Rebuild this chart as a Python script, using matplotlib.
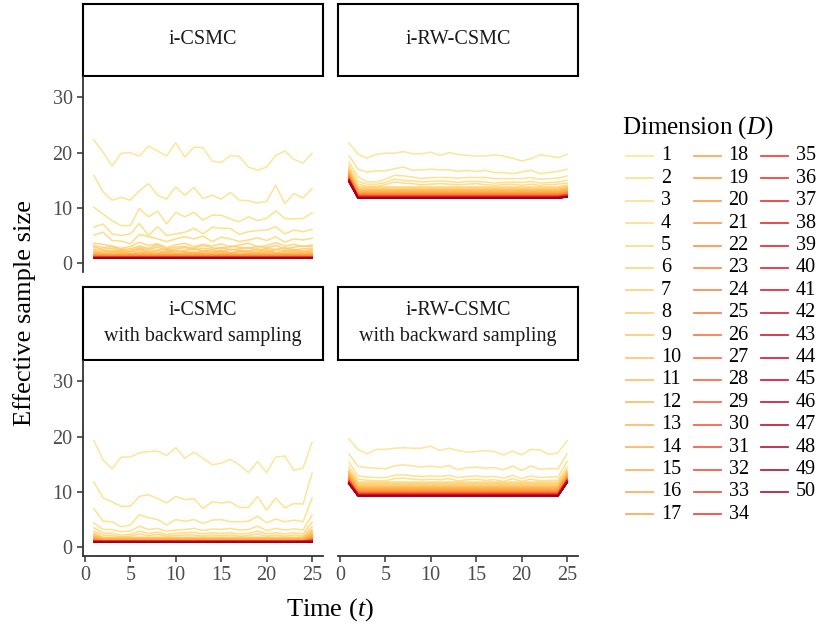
import matplotlib
matplotlib.use("Agg")
import matplotlib.pyplot as plt
from matplotlib.lines import Line2D
import numpy as np

plt.rcParams['font.family'] = ['Liberation Serif', 'DejaVu Serif']
plt.rcParams['mathtext.fontset'] = 'custom'
plt.rcParams['mathtext.rm'] = 'Liberation Serif'
plt.rcParams['mathtext.it'] = 'Liberation Serif:italic'

# ---- data ----
time = list(range(1, 26))
dims = list(range(1, 51))
panel_titles = ["i-CSMC", "i-RW-CSMC",
                "i-CSMC\nwith backward sampling", "i-RW-CSMC\nwith backward sampling"]
x_ticks = [0, 5, 10, 15, 20, 25]
y_ticks = [0, 10, 20, 30]

# i-CSMC, dimensions 1..12 read point by point
csmc_rows = [
    [22.3, 20.1, 17.6, 19.9, 20.0, 19.4, 21.2, 20.3, 19.4, 21.8, 19.2, 21.0, 20.9, 18.5, 18.2, 19.5, 19.3, 17.4, 16.8, 17.4, 19.5, 20.3, 18.8, 18.1, 19.9],
    [15.9, 12.9, 11.4, 11.9, 11.4, 13.1, 14.4, 12.3, 11.6, 13.8, 12.3, 13.7, 11.7, 12.3, 11.6, 12.8, 11.4, 11.3, 10.9, 11.2, 14.1, 10.8, 12.6, 11.8, 13.5],
    [10.1, 8.9, 7.7, 6.8, 6.8, 9.9, 8.4, 9.4, 7.1, 9.2, 8.4, 9.2, 7.8, 8.7, 8.7, 8.0, 7.5, 8.4, 7.7, 8.1, 9.5, 8.1, 8.0, 8.1, 9.1],
    [6.5, 7.1, 5.3, 5.0, 5.3, 7.2, 5.0, 6.6, 5.0, 5.3, 5.6, 6.3, 5.3, 6.5, 6.3, 6.3, 5.2, 5.7, 5.9, 6.0, 6.6, 5.3, 6.0, 5.7, 6.1],
    [5.1, 5.6, 4.1, 4.0, 3.5, 5.2, 4.8, 4.4, 3.9, 4.4, 4.8, 4.4, 4.9, 3.9, 4.7, 4.4, 3.9, 4.2, 4.6, 4.1, 4.8, 3.8, 4.4, 4.2, 4.5],
    [3.6, 3.4, 3.1, 2.7, 3.0, 3.8, 3.2, 3.5, 2.8, 3.3, 3.6, 3.0, 3.4, 3.1, 3.5, 2.9, 3.3, 3.6, 3.0, 3.2, 3.7, 3.1, 3.4, 3.0, 3.3],
    [3.2, 2.8, 3.0, 2.5, 2.6, 3.1, 2.7, 3.3, 2.6, 2.9, 3.0, 2.7, 3.2, 2.8, 2.6, 3.1, 2.9, 2.7, 3.0, 2.8, 3.2, 2.6, 2.9, 3.1, 3.0],
    [2.9, 2.5, 2.7, 2.3, 2.4, 2.8, 2.5, 2.9, 2.3, 2.6, 2.8, 2.4, 2.7, 2.5, 2.9, 2.4, 2.6, 2.8, 2.3, 2.7, 2.5, 2.8, 2.4, 2.6, 2.7],
    [2.5, 2.3, 2.1, 2.4, 2.0, 2.6, 2.2, 2.4, 2.5, 2.1, 2.3, 2.6, 2.2, 2.4, 2.1, 2.5, 2.3, 2.2, 2.6, 2.1, 2.4, 2.3, 2.5, 2.2, 2.4],
    [2.2, 2.0, 2.3, 1.9, 2.1, 2.4, 1.9, 2.2, 2.0, 2.3, 2.1, 1.9, 2.2, 2.0, 2.3, 1.9, 2.1, 2.2, 2.0, 2.4, 1.9, 2.1, 2.2, 2.0, 2.2],
    [2.0, 1.8, 1.9, 2.1, 1.7, 2.0, 1.9, 1.8, 2.1, 1.8, 1.9, 2.0, 1.7, 1.9, 2.0, 1.8, 2.1, 1.9, 1.8, 2.0, 1.9, 1.7, 2.0, 1.9, 1.9],
    [1.8, 1.7, 1.6, 1.8, 1.7, 1.9, 1.6, 1.8, 1.7, 1.6, 1.8, 1.7, 1.9, 1.6, 1.7, 1.8, 1.6, 1.7, 1.8, 1.7, 1.6, 1.8, 1.7, 1.7, 1.8],
]
# i-CSMC, dimensions 13..50 sit flat near ESS = 1
csmc_flat = [1.6, 1.55, 1.5, 1.45, 1.4, 1.35, 1.3, 1.3, 1.25, 1.25, 1.2, 1.2, 1.15, 1.15, 1.1, 1.1,
             1.1, 1.05, 1.05, 1.05, 1.05, 1.0, 1.0, 1.0, 1.0, 1.0, 1.0, 1.0, 1.0, 1.0, 1.0, 1.0,
             1.0, 1.0, 1.0, 1.0, 1.0, 1.0]

# i-RW-CSMC, dimensions 1..5
rw_rows = [
    [21.8, 19.7, 19.0, 19.7, 19.9, 19.9, 20.2, 19.8, 19.8, 20.1, 19.5, 20.0, 19.7, 19.5, 19.4, 19.4, 19.6, 19.4, 19.0, 18.5, 18.9, 19.6, 19.4, 19.1, 19.7],
    [19.5, 17.0, 16.5, 16.7, 16.7, 17.1, 17.4, 16.8, 16.9, 17.0, 16.9, 16.9, 16.6, 16.8, 16.6, 16.8, 16.4, 16.4, 16.2, 16.5, 16.8, 16.2, 16.4, 16.6, 17.0],
    [18.3, 15.6, 14.7, 14.7, 15.2, 15.9, 15.8, 15.6, 15.3, 15.5, 15.5, 15.5, 15.4, 15.5, 15.5, 15.5, 15.3, 15.3, 15.3, 15.3, 15.5, 15.2, 15.3, 15.4, 15.8],
    [17.7, 14.8, 14.3, 14.3, 14.6, 15.2, 15.0, 14.9, 14.7, 14.8, 14.9, 14.8, 14.6, 14.8, 14.8, 14.7, 14.5, 14.6, 14.7, 14.6, 14.8, 14.5, 14.6, 14.7, 15.0],
    [17.3, 14.3, 13.9, 13.9, 14.2, 14.7, 14.5, 14.4, 14.2, 14.3, 14.4, 14.3, 14.2, 14.3, 14.4, 14.2, 14.1, 14.2, 14.3, 14.1, 14.3, 14.1, 14.2, 14.3, 14.5],
]
# i-RW-CSMC, dimensions 6..50: value at t=1, level for t=2..24, value at t=25
rw_start = [17.0, 16.9, 16.8, 16.7, 16.6, 16.5, 16.4, 16.3, 16.2, 16.1, 16.0, 15.9, 15.8, 15.8, 15.7,
            15.6, 15.6, 15.5, 15.5, 15.4, 15.4, 15.3, 15.3, 15.3, 15.2, 15.2, 15.2, 15.1, 15.1, 15.1,
            15.0, 15.0, 15.0, 15.0, 14.9, 14.9, 14.9, 14.9, 14.9, 14.8, 14.8, 14.8, 14.8, 14.8, 14.8]
rw_level = [13.8, 13.6, 13.4, 13.3, 13.2, 13.1, 13.0, 12.9, 12.8, 12.75, 12.7, 12.6, 12.55, 12.5, 12.45,
            12.4, 12.35, 12.3, 12.3, 12.25, 12.2, 12.2, 12.15, 12.1, 12.1, 12.05, 12.05, 12.0, 12.0, 11.95,
            11.95, 11.9, 11.9, 11.9, 11.85, 11.85, 11.85, 11.8, 11.8, 11.8, 11.8, 11.8, 11.8, 11.8, 11.8]
rw_end = [14.1, 13.9, 13.7, 13.6, 13.5, 13.4, 13.3, 13.2, 13.1, 13.0, 12.95, 12.85, 12.8, 12.75, 12.7,
          12.65, 12.6, 12.55, 12.5, 12.45, 12.4, 12.4, 12.35, 12.3, 12.3, 12.25, 12.25, 12.2, 12.2, 12.15,
          12.15, 12.1, 12.1, 12.1, 12.05, 12.05, 12.05, 12.0, 12.0, 12.0, 12.0, 12.0, 12.0, 12.0, 12.0]

# i-CSMC with backward sampling, dimensions 1..6
csmc_bs_rows = [
    [19.3, 15.8, 14.2, 16.3, 16.3, 17.1, 17.3, 17.4, 16.6, 18.0, 16.1, 17.2, 16.1, 14.9, 15.2, 15.9, 14.9, 13.5, 15.5, 13.5, 16.3, 16.5, 13.9, 14.3, 19.0],
    [11.8, 8.9, 8.2, 7.4, 7.4, 9.2, 9.5, 8.8, 8.0, 9.2, 8.6, 8.8, 7.0, 8.2, 8.0, 8.2, 7.2, 7.2, 9.2, 6.7, 8.9, 7.1, 7.9, 7.8, 13.4],
    [7.0, 4.7, 4.6, 3.7, 4.0, 5.9, 5.3, 5.0, 4.0, 5.0, 4.7, 5.0, 4.3, 4.9, 5.0, 4.6, 4.6, 4.7, 5.6, 4.4, 5.1, 4.6, 4.9, 4.6, 8.9],
    [4.4, 3.2, 3.2, 2.8, 2.9, 3.8, 3.2, 3.4, 2.9, 3.1, 3.2, 3.4, 3.0, 3.3, 3.2, 3.4, 3.1, 3.2, 3.8, 3.0, 3.4, 3.1, 3.3, 3.1, 5.8],
    [3.5, 2.6, 2.5, 2.2, 2.3, 2.9, 2.5, 2.7, 2.3, 2.5, 2.6, 2.7, 2.4, 2.6, 2.5, 2.6, 2.4, 2.5, 2.9, 2.4, 2.6, 2.4, 2.6, 2.4, 4.5],
    [2.9, 2.2, 2.1, 1.9, 2.0, 2.4, 2.1, 2.3, 2.0, 2.1, 2.2, 2.2, 2.0, 2.2, 2.1, 2.2, 2.0, 2.1, 2.4, 2.0, 2.2, 2.0, 2.2, 2.0, 3.7],
]
# dimensions 7..50
csmc_bs_start = [2.5, 2.3, 2.1, 2.0, 1.9, 1.8, 1.7, 1.6, 1.55, 1.5, 1.45, 1.4, 1.35, 1.3, 1.3,
                 1.25, 1.2, 1.2, 1.15, 1.15, 1.1, 1.1, 1.1, 1.05, 1.05, 1.05, 1.0, 1.0, 1.0, 1.0,
                 1.0, 1.0, 1.0, 1.0, 1.0, 1.0, 1.0, 1.0, 1.0, 1.0, 1.0, 1.0, 1.0, 1.0]
csmc_bs_level = [1.8, 1.7, 1.6, 1.5, 1.45, 1.4, 1.35, 1.3, 1.25, 1.2, 1.2, 1.15, 1.15, 1.1, 1.1,
                 1.1, 1.05, 1.05, 1.05, 1.05, 1.0, 1.0, 1.0, 1.0, 1.0, 1.0, 1.0, 1.0, 1.0, 1.0,
                 1.0, 1.0, 1.0, 1.0, 1.0, 1.0, 1.0, 1.0, 1.0, 1.0, 1.0, 1.0, 1.0, 1.0]
csmc_bs_end = [3.2, 2.9, 2.7, 2.5, 2.3, 2.2, 2.1, 2.0, 1.9, 1.8, 1.75, 1.7, 1.6, 1.55, 1.5,
               1.45, 1.4, 1.4, 1.35, 1.3, 1.3, 1.25, 1.25, 1.2, 1.2, 1.15, 1.15, 1.1, 1.1, 1.1,
               1.05, 1.05, 1.05, 1.05, 1.0, 1.0, 1.0, 1.0, 1.0, 1.0, 1.0, 1.0, 1.0, 1.0]

# i-RW-CSMC with backward sampling, dimensions 1..4
rw_bs_rows = [
    [19.6, 17.7, 16.9, 17.7, 17.7, 17.9, 18.0, 17.9, 17.9, 18.3, 17.5, 17.9, 17.5, 17.2, 17.3, 17.5, 17.3, 16.7, 17.4, 16.7, 17.7, 17.6, 16.8, 17.1, 19.3],
    [16.9, 14.6, 14.4, 14.3, 14.2, 14.7, 14.9, 14.7, 14.5, 14.7, 14.4, 14.8, 14.0, 14.4, 14.5, 14.3, 14.4, 14.0, 14.7, 13.9, 14.7, 14.1, 14.2, 14.2, 16.9],
    [15.4, 12.9, 12.7, 12.6, 12.6, 13.0, 13.1, 12.9, 12.8, 12.9, 12.8, 13.0, 12.6, 12.8, 12.9, 12.7, 12.8, 12.5, 13.0, 12.4, 12.9, 12.6, 12.7, 12.7, 15.5],
    [14.5, 12.3, 12.1, 12.0, 12.0, 12.4, 12.5, 12.3, 12.2, 12.3, 12.2, 12.4, 12.0, 12.2, 12.3, 12.1, 12.2, 11.9, 12.4, 11.9, 12.3, 12.0, 12.1, 12.1, 14.5],
]
# dimensions 5..50
rw_bs_start = [14.0, 13.8, 13.6, 13.5, 13.4, 13.3, 13.2, 13.1, 13.0, 12.9, 12.8, 12.7, 12.6, 12.5, 12.45,
               12.4, 12.3, 12.25, 12.2, 12.15, 12.1, 12.05, 12.0, 11.95, 11.9, 11.9, 11.85, 11.8, 11.8, 11.75,
               11.75, 11.7, 11.7, 11.65, 11.65, 11.6, 11.6, 11.6, 11.55, 11.55, 11.5, 11.5, 11.5, 11.5, 11.5, 11.5]
rw_bs_level = [11.8, 11.6, 11.4, 11.2, 11.0, 10.9, 10.8, 10.7, 10.6, 10.5, 10.4, 10.3, 10.25, 10.2, 10.1,
               10.05, 10.0, 9.95, 9.9, 9.85, 9.8, 9.75, 9.7, 9.7, 9.65, 9.6, 9.6, 9.55, 9.55, 9.5,
               9.5, 9.45, 9.45, 9.4, 9.4, 9.4, 9.35, 9.35, 9.35, 9.3, 9.3, 9.3, 9.3, 9.3, 9.3, 9.3]
rw_bs_end = [14.0, 13.8, 13.6, 13.5, 13.4, 13.3, 13.2, 13.1, 13.0, 12.9, 12.8, 12.75, 12.7, 12.6, 12.55,
             12.5, 12.45, 12.4, 12.35, 12.3, 12.25, 12.2, 12.2, 12.15, 12.1, 12.1, 12.05, 12.0, 12.0, 11.95,
             11.95, 11.9, 11.9, 11.9, 11.85, 11.85, 11.8, 11.8, 11.8, 11.8, 11.75, 11.75, 11.7, 11.7, 11.7, 11.7]


def stack_rows(rows, start=None, level=None, end=None, flat=None):
    out = [list(r) for r in rows]
    n = len(time)
    if flat is not None:
        for v in flat:
            out.append([v] * n)
    if level is not None:
        for s, l, e in zip(start, level, end):
            out.append([s] + [l] * (n - 2) + [e])
    return np.array(out)


panels = [
    stack_rows(csmc_rows, flat=csmc_flat),
    stack_rows(rw_rows, rw_start, rw_level, rw_end),
    stack_rows(csmc_bs_rows, csmc_bs_start, csmc_bs_level, csmc_bs_end),
    stack_rows(rw_bs_rows, rw_bs_start, rw_bs_level, rw_bs_end),
]

# ---- styling ----
W, H = 817, 628
cmap = plt.get_cmap('YlOrRd')
colors = [cmap(v) for v in np.linspace(0.2, 0.93, len(dims))]
ALPHA = 0.85
AXCOL = '#333333'
TICKCOL = '#4D4D4D'


def px_axes(fig, x0, y0, x1, y1):
    return fig.add_axes([x0 / W, 1 - y1 / H, (x1 - x0) / W, (y1 - y0) / H])


fig = plt.figure(figsize=(W / 100, H / 100), dpi=100)

cols_x = [(83, 323), (338, 578)]
rows_y = [((4, 76), (77, 272)), ((287, 360), (361, 556))]

for k in range(4):
    r, c = divmod(k, 2)
    x0, x1 = cols_x[c]
    (sy0, sy1), (py0, py1) = rows_y[r]

    # strip
    sax = px_axes(fig, x0, sy0, x1, sy1)
    sax.set_xticks([]); sax.set_yticks([])
    for sp in sax.spines.values():
        sp.set_linewidth(1.5); sp.set_color('black')
    sax.text(0.5, 0.5, panel_titles[k], ha='center', va='center', fontsize=14.5,
             color='#1A1A1A', linespacing=1.5, transform=sax.transAxes)

    # panel
    ax = px_axes(fig, x0, py0, x1, py1)
    data = panels[k]
    for i in range(len(dims)):
        ax.plot(time, data[i], color=colors[i], alpha=ALPHA, lw=1.1)
    ax.set_xlim(-0.2, 26.2)
    ax.set_ylim(-1.6, 33.7)
    for sp in ax.spines.values():
        sp.set_visible(False)
    ax.tick_params(colors=AXCOL, labelcolor=TICKCOL, labelsize=14.5, length=4, width=1.1)
    if c == 0:
        ax.spines['left'].set_visible(True)
        ax.spines['left'].set_color(AXCOL)
        ax.spines['left'].set_linewidth(1.3)
        ax.set_yticks(y_ticks)
    else:
        ax.set_yticks([])
    if r == 1:
        ax.spines['bottom'].set_visible(True)
        ax.spines['bottom'].set_color(AXCOL)
        ax.spines['bottom'].set_linewidth(1.3)
        ax.set_xticks(x_ticks)
    else:
        ax.set_xticks([])

fig.text(25 / W, 1 - 313 / H, "Effective sample size", rotation=90, ha='center', va='center',
         fontsize=19)
fig.text(330 / W, 1 - 610 / H, "Time ($t$)", ha='center', va='center', fontsize=19)

# legend
fig.text(622 / W, 1 - 128 / H, "Dimension ($D$)", ha='left', va='center', fontsize=18)
for i, d in enumerate(dims):
    col, row = divmod(i, 17)
    y = 1 - (156 + row * 22.4) / H
    lx = 626 + col * 67.5
    fig.add_artist(Line2D([lx / W, (lx + 27) / W], [y, y], color=colors[i], alpha=ALPHA,
                          lw=1.3, transform=fig.transFigure))
    fig.text((lx + 35) / W, y, str(d), ha='left', va='center', fontsize=14.5)

fig.savefig("out.png", dpi=100)
